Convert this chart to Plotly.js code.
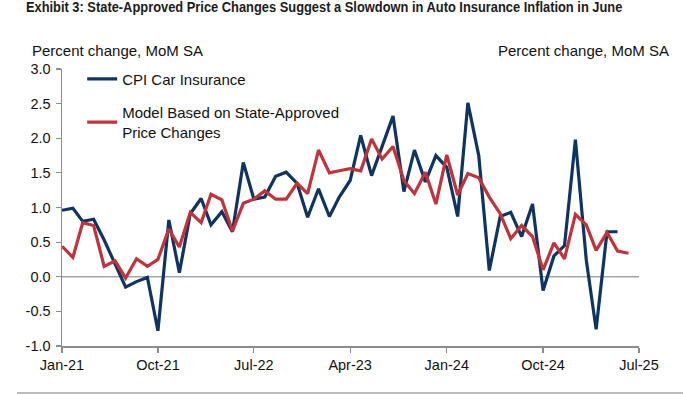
<!DOCTYPE html>
<html>
<head>
<meta charset="utf-8">
<script src="https://cdn.plot.ly/plotly-3.0.1.min.js"></script>
<style>
html,body{margin:0;padding:0;background:#fff;}
#chart{width:700px;height:394px;}
#chart .gtitle{transform-box:fill-box;transform-origin:0 50%;transform:scaleX(0.92);}
</style>
</head>
<body>
<div id="chart"></div>
<script>
// Months Jan-21 .. Jun-25
const months = [
 '2021-01-01','2021-02-01','2021-03-01','2021-04-01','2021-05-01','2021-06-01','2021-07-01','2021-08-01','2021-09-01','2021-10-01','2021-11-01','2021-12-01',
 '2022-01-01','2022-02-01','2022-03-01','2022-04-01','2022-05-01','2022-06-01','2022-07-01','2022-08-01','2022-09-01','2022-10-01','2022-11-01','2022-12-01',
 '2023-01-01','2023-02-01','2023-03-01','2023-04-01','2023-05-01','2023-06-01','2023-07-01','2023-08-01','2023-09-01','2023-10-01','2023-11-01','2023-12-01',
 '2024-01-01','2024-02-01','2024-03-01','2024-04-01','2024-05-01','2024-06-01','2024-07-01','2024-08-01','2024-09-01','2024-10-01','2024-11-01','2024-12-01',
 '2025-01-01','2025-02-01','2025-03-01','2025-04-01','2025-05-01','2025-06-01'
];
// CPI Car Insurance (Jan-21 .. May-25)
const cpiCarInsurance = [
 0.96,0.99,0.80,0.83,0.53,0.19,-0.15,-0.07,-0.01,-0.78,0.82,0.06,
 0.91,1.13,0.75,0.94,0.65,1.65,1.12,1.15,1.45,1.51,1.35,0.86,
 1.27,0.87,1.15,1.39,2.04,1.46,1.88,2.32,1.23,1.83,1.37,1.75,
 1.58,0.87,2.51,1.75,0.09,0.87,0.93,0.58,1.05,-0.20,0.30,0.45,
 1.98,0.24,-0.76,0.65,0.65
];
// Model Based on State-Approved Price Changes (Jan-21 .. Jun-25)
const modelStateApproved = [
 0.44,0.28,0.78,0.74,0.15,0.23,-0.02,0.26,0.15,0.25,0.69,0.43,
 0.93,0.78,1.19,1.11,0.66,1.06,1.12,1.24,1.12,1.12,1.35,1.20,
 1.83,1.50,1.53,1.56,1.53,1.99,1.70,1.88,1.39,1.20,1.51,1.05,
 1.76,1.18,1.49,1.43,1.15,0.91,0.55,0.74,0.58,0.10,0.49,0.26,
 0.90,0.75,0.38,0.64,0.37,0.34
];
const xTickVals = ['2021-01-01','2021-10-01','2022-07-01','2023-04-01','2024-01-01','2024-10-01','2025-07-01'];
const xTickText = ['Jan-21','Oct-21','Jul-22','Apr-23','Jan-24','Oct-24','Jul-25'];
const yTickVals = [-1,-0.5,0,0.5,1,1.5,2,2.5,3];
const yTickText = ['-1.0','-0.5','0.0','0.5','1.0','1.5','2.0','2.5','3.0'];

const FONT = 'Liberation Sans, Arial, sans-serif';
const AXC = '#8c8c8c';

const traces = [
 {x: months.slice(0, cpiCarInsurance.length), y: cpiCarInsurance, type:'scatter', mode:'lines',
  name:'CPI Car Insurance', legendgroup:'a',
  line:{color:'#0e3461', width:3.2}},
 {x: months.slice(0, modelStateApproved.length), y: modelStateApproved, type:'scatter', mode:'lines',
  name:'Model Based on State-Approved<br>Price Changes', legendgroup:'b',
  line:{color:'#c1323a', width:3.2}}
];
const axisCommon = {
 showgrid:false, zeroline:false, showline:true, linecolor:AXC, linewidth:1.5,
 ticks:'outside', ticklen:5, tickwidth:1.2, tickcolor:AXC,
 tickfont:{family:FONT, size:14.5, color:'#111'}
};
const layout = {
 width:700, height:394,
 margin:{l:62, r:61, t:69, b:48, pad:0},
 paper_bgcolor:'#fff', plot_bgcolor:'#fff',
 font:{family:FONT, size:15, color:'#111'},
 title:{text:'Exhibit 3: State-Approved Price Changes Suggest a Slowdown in Auto Insurance Inflation in June',
   font:{family:FONT, size:14, weight:'bold', color:'#1c1c1c'},
   xref:'container', yref:'container', x:0.037, xanchor:'left', y:0.982, yanchor:'middle'},
 xaxis: Object.assign({}, axisCommon, {
   type:'date', range:['2021-01-01','2025-07-01'],
   tickmode:'array', tickvals:xTickVals, ticktext:xTickText, ticklen:5
 }),
 yaxis: Object.assign({}, axisCommon, {
   range:[-1,3], tickmode:'array', tickvals:yTickVals, ticktext:yTickText,
   ticklen:5, ticklabelstandoff:2
 }),
 yaxis2: Object.assign({}, axisCommon, {
   range:[-1,3], tickmode:'array', tickvals:yTickVals, ticktext:yTickText,
   overlaying:'y', side:'right', anchor:'x', ticklen:5
 }),
 showlegend:true,
 legend:{x:0.035, y:1.023, xanchor:'left', yanchor:'top', bgcolor:'rgba(0,0,0,0)',
   font:{family:FONT, size:15, color:'#111'}, traceorder:'grouped', tracegroupgap:11,
   itemwidth:30},
 shapes:[
  {type:'line', xref:'paper', yref:'y', x0:0, x1:1, y0:0, y1:0, line:{color:'#a6a6a6', width:1.6}, layer:'below'},
  {type:'line', xref:'paper', yref:'paper', x0:(17-62)/577, x1:(683-62)/577, y0:(346-393)/277, y1:(346-393)/277, line:{color:'#a6a6a6', width:1.5}}
 ],
 annotations:[
  {text:'Percent change, MoM SA', xref:'paper', yref:'paper', x:(30-62)/577, y:(346-51)/277,
   xanchor:'left', yanchor:'middle', showarrow:false, font:{family:FONT, size:15, color:'#111'}},
  {text:'Percent change, MoM SA', xref:'paper', yref:'paper', x:(671-62)/577, y:(346-51)/277,
   xanchor:'right', yanchor:'middle', showarrow:false, font:{family:FONT, size:15, color:'#111'}}
 ]
};
Plotly.newPlot('chart', traces, layout, {displayModeBar:false, staticPlot:true});
</script>
</body>
</html>
